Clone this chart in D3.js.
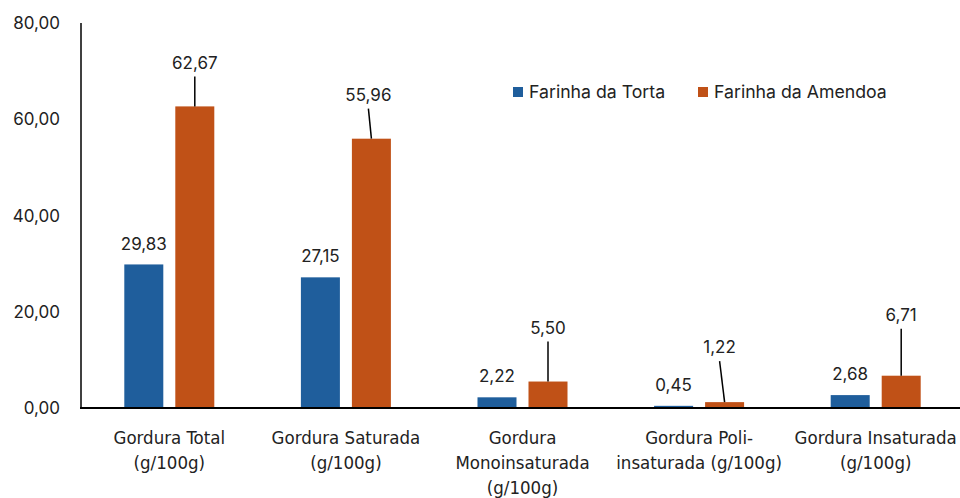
<!DOCTYPE html>
<html>
<head>
<meta charset="utf-8">
<script src="https://cdn.jsdelivr.net/npm/d3@7"></script>
<style>
  body { margin: 0; background: #fff; }
  .tick-label, .data-label, .legend-label { font-family: Inter, "Liberation Sans", sans-serif; font-size: 17px; fill: #222; }
  .legend-label { font-size: 17.7px; }
  .cat-label { font-family: "DejaVu Sans Condensed", "DejaVu Sans", sans-serif; font-stretch: condensed; font-size: 18.5px; fill: #222; }
</style>
</head>
<body>
<div id="chart"></div>
<script>
// data
const categories = [
    "Gordura Total (g/100g)",
    "Gordura Saturada (g/100g)",
    "Gordura Monoinsaturada (g/100g)",
    "Gordura Poli-insaturada (g/100g)",
    "Gordura Insaturada (g/100g)"
];
const categoryLines = [
    ["Gordura Total", "(g/100g)"],
    ["Gordura Saturada", "(g/100g)"],
    ["Gordura", "Monoinsaturada", "(g/100g)"],
    ["Gordura Poli-", "insaturada (g/100g)"],
    ["Gordura Insaturada", "(g/100g)"]
];
const seriesNames = ["Farinha da Torta", "Farinha da Amendoa"];
const torta = [29.83, 27.15, 2.22, 0.45, 2.68];
const amendoa = [62.67, 55.96, 5.50, 1.22, 6.71];
const yTicks = [0, 20, 40, 60, 80];

const colors = { "Farinha da Torta": "#1f5e9c", "Farinha da Amendoa": "#c05117" };

const width = 960, height = 498;
const margin = { top: 23, right: -4, bottom: 90, left: 81 };

const svg = d3.select("#chart")
    .append("svg")
    .attr("width", width)
    .attr("height", height);

const y = d3.scaleLinear()
    .domain([0, 80])
    .range([height - margin.bottom, margin.top]);

const x0 = d3.scaleBand()
    .domain(categories)
    .range([margin.left, width - margin.right])
    .padding(0);

// bar pair is 90px wide inside each band
const pairW = 90;
const x1 = d3.scaleBand()
    .domain(seriesNames)
    .range([(x0.bandwidth() - pairW) / 2, (x0.bandwidth() + pairW) / 2])
    .paddingInner(0.2353)
    .paddingOuter(0);

const rows = categories.map((c, i) => ({ cat: c, i: i, values: [
    { name: seriesNames[0], value: torta[i], i: i },
    { name: seriesNames[1], value: amendoa[i], i: i }
]}));

// bars
const groups = svg.selectAll(".grp")
    .data(rows)
    .enter()
    .append("g")
    .attr("class", "grp")
    .attr("transform", d => `translate(${x0(d.cat)},0)`);

groups.selectAll("rect")
    .data(d => d.values)
    .enter()
    .append("rect")
    .attr("x", d => x1(d.name))
    .attr("y", d => y(d.value))
    .attr("width", x1.bandwidth())
    .attr("height", d => y(0) - y(d.value))
    .style("fill", d => colors[d.name]);

// axes lines
svg.append("line")
    .attr("x1", margin.left).attr("x2", margin.left)
    .attr("y1", y(80)).attr("y2", y(0))
    .attr("stroke", "#000").attr("stroke-width", 1.5);

svg.append("line")
    .attr("x1", margin.left - 1).attr("x2", width)
    .attr("y1", y(0)).attr("y2", y(0))
    .attr("stroke", "#000").attr("stroke-width", 2);

// y tick labels
svg.selectAll(".tick-label")
    .data(yTicks)
    .enter()
    .append("text")
    .attr("class", "tick-label")
    .attr("x", 60)
    .attr("y", d => y(d))
    .attr("dy", "0.36em")
    .attr("text-anchor", "end")
    .text(d => d3.format(".2f")(d).replace(".", ","));

const fmt = v => d3.format(".2f")(v).replace(".", ",");

// torta labels sit straight above the bar
svg.selectAll(".lbl-torta")
    .data(torta)
    .enter()
    .append("text")
    .attr("class", "data-label")
    .attr("x", (d, i) => x0(categories[i]) + x1(seriesNames[0]) + x1.bandwidth() / 2)
    .attr("y", d => y(d) - 21)
    .attr("dy", "0.36em")
    .attr("text-anchor", "middle")
    .text(d => fmt(d));

// amendoa labels were dragged up in the original, with leader lines
const labelOffsets = [[0, 44], [-3, 44], [0, 54], [-5, 55], [0, 61]];

amendoa.forEach((v, i) => {
    const cx = x0(categories[i]) + x1(seriesNames[1]) + x1.bandwidth() / 2;
    const lx = cx + labelOffsets[i][0];
    const ly = y(v) - labelOffsets[i][1];
    svg.append("line")
        .attr("x1", cx).attr("y1", y(v))
        .attr("x2", lx).attr("y2", ly + 14)
        .attr("stroke", "#000").attr("stroke-width", 1.5);
    svg.append("text")
        .attr("class", "data-label")
        .attr("x", lx)
        .attr("y", ly)
        .attr("dy", "0.36em")
        .attr("text-anchor", "middle")
        .text(fmt(v));
});

// category labels
const cat = svg.selectAll(".cat")
    .data(categoryLines)
    .enter()
    .append("text")
    .attr("class", "cat-label")
    .attr("text-anchor", "middle")
    .attr("transform", (d, i) => `translate(${x0(categories[i]) + x0.bandwidth() / 2},437)`);

cat.selectAll("tspan")
    .data(d => d)
    .enter()
    .append("tspan")
    .attr("x", 0)
    .attr("y", (d, j) => j * 25)
    .attr("dy", "0.36em")
    .text(d => d);

// legend
const legendX = [513, 698];
const legend = svg.selectAll(".legend")
    .data(seriesNames)
    .enter()
    .append("g")
    .attr("transform", (d, i) => `translate(${legendX[i]},92)`);

legend.append("rect")
    .attr("x", 0).attr("y", -5)
    .attr("width", 10).attr("height", 10)
    .style("fill", d => colors[d]);

legend.append("text")
    .attr("class", "legend-label")
    .attr("x", 16)
    .attr("dy", "0.36em")
    .text(d => d);
</script>
</body>
</html>
